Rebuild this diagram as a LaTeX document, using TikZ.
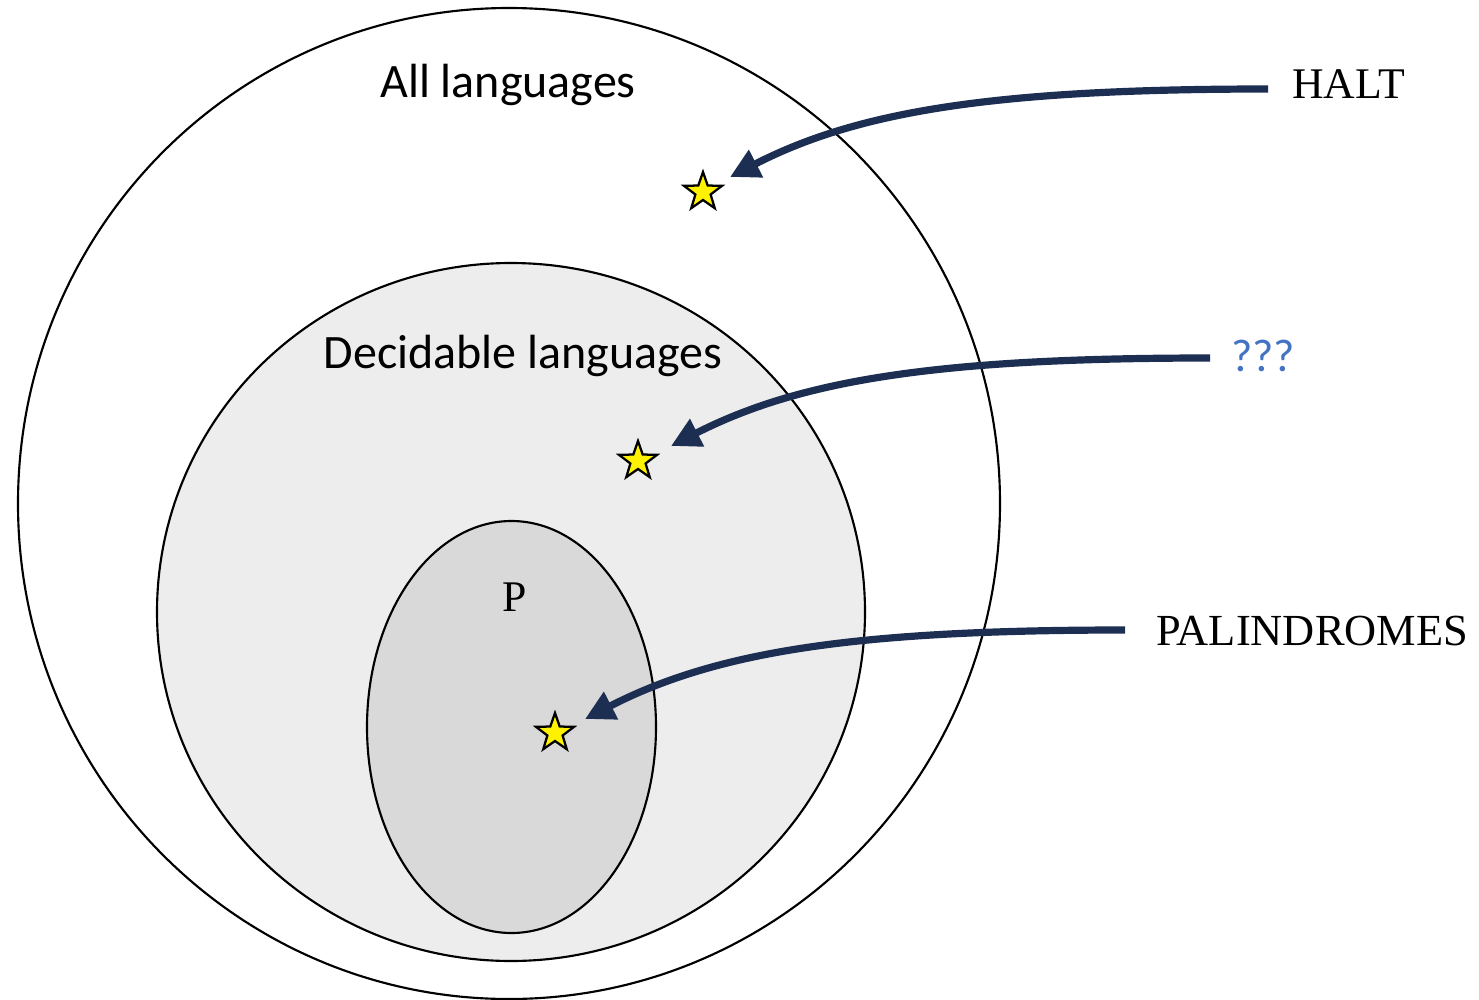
\documentclass[tikz,border=0pt]{standalone}
\usepackage{fontspec}
\setmainfont{Liberation Serif}
\newfontfamily\calib{Carlito}
\usetikzlibrary{shapes.geometric,arrows.meta}
\definecolor{navy}{HTML}{1C2E52}
\definecolor{qblue}{HTML}{4472C4}
\definecolor{decfill}{HTML}{EDEDED}
\definecolor{pfill}{HTML}{D9D9D9}
\tikzset{
  region/.style={draw=black, line width=1.6pt, ellipse, inner sep=0pt},
  starmark/.style={star, star points=5, star point ratio=2.5, draw=black, fill=yellow, line width=1.7pt, minimum size=30pt, inner sep=0pt},
  pointer/.style={draw=navy, line width=5.4pt, -{Triangle[length=22pt,width=22pt]}},
  calabel/.style={font=\calib\fontsize{36}{40}\selectfont, inner sep=0pt},
  tmlabel/.style={font=\fontsize{32.8}{38}\selectfont, inner sep=0pt},
}
\begin{document}
\begin{tikzpicture}[x=0.75pt,y=-0.75pt]
\useasboundingbox (0,0) rectangle (1479,1000);
\node[region, minimum width=982*0.75pt, minimum height=991*0.75pt] (all) at (509,503.5) {};
\node[region, fill=decfill, minimum width=708*0.75pt, minimum height=698*0.75pt] (dec) at (511,612) {};
\node[region, fill=pfill, minimum width=289*0.75pt, minimum height=412*0.75pt] (pset) at (511.5,727) {};
\node[calabel] (alllab) at (508,85) {All languages};
\node[calabel] (declab) at (523,356) {Decidable languages};
\node[tmlabel] (plab) at (515,597) {P};
\node[starmark] (s1) at (703,192) {};
\node[starmark] (s2) at (638,461) {};
\node[starmark] (s3) at (555,733) {};
\node[tmlabel, anchor=west] (halt) at (1292,84) {HALT};
\node[calabel, text=qblue, font=\calib\fontsize{34.5}{40}\selectfont, anchor=west] (qq) at (1231,356) {???};
\node[tmlabel, font=\fontsize{33.3}{38}\selectfont, anchor=west] (pal) at (1156,631) {PALINDROMES};
\coordinate (h1) at (1268,89);
\coordinate (h2) at (730,177);
\coordinate (q1) at (1210,358);
\coordinate (q2) at (671,446);
\coordinate (p1) at (1125,630);
\coordinate (p2) at (585,719);
\draw[pointer] (h1) .. controls (1000,89) and (860,110) .. (h2);
\draw[pointer] (q1) .. controls (942,358) and (802,379) .. (q2);
\draw[pointer] (p1) .. controls (857,630) and (717,651) .. (p2);
\end{tikzpicture}
\end{document}
